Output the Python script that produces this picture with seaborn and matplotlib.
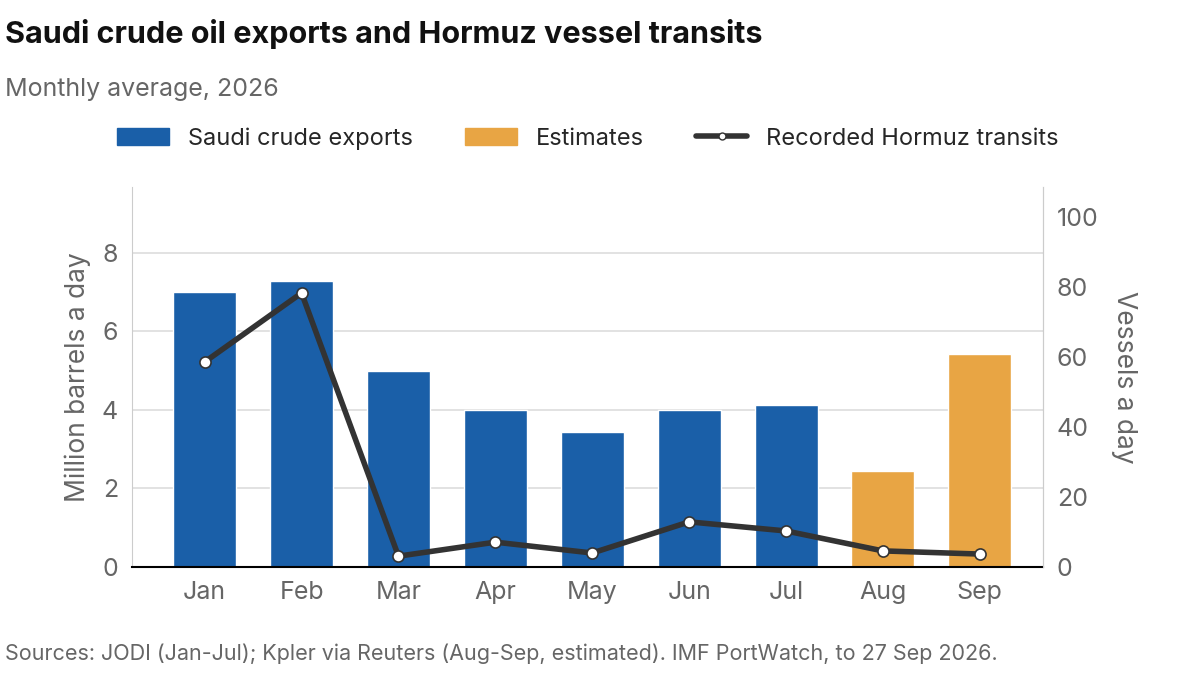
import numpy as np
import matplotlib.pyplot as plt
import seaborn as sns
from matplotlib.lines import Line2D
from matplotlib.patches import Patch

months = ["Jan", "Feb", "Mar", "Apr", "May", "Jun", "Jul", "Aug", "Sep"]
exports = [7.0, 7.29, 5.0, 4.0, 3.44, 4.0, 4.13, 2.45, 5.43]
is_estimate = [False] * 7 + [True, True]
transits = [58.6, 78.3, 3.1, 7.1, 4.0, 12.9, 10.3, 4.6, 3.7]

BLUE = "#1a5fa8"
ORANGE = "#e8a544"
LINE = "#333333"
GREY = "#666666"

sns.set_style("white")
plt.rcParams['font.family'] = ['Inter', 'DejaVu Sans']

fig = plt.figure(figsize=(12, 6.75), dpi=100)
ax = fig.add_axes([0.11, 0.16, 0.759, 0.563])
x = np.arange(len(months))
colors = [ORANGE if e else BLUE for e in is_estimate]
sns.barplot(x=months, y=exports, palette=colors, hue=months, legend=False,
            width=0.65, ax=ax, zorder=2, saturation=1)
ax.set_ylim(0, 9.68)
ax.set_yticks([0, 2, 4, 6, 8])
ax.yaxis.grid(True, color="#dddddd", linewidth=1.2, zorder=0)
ax.set_axisbelow(True)
ax.set_xlim(-0.75, 8.65)
ax.tick_params(axis="both", labelsize=18, colors=GREY, length=0, pad=10)
ax.set_ylabel("Million barrels a day", fontsize=19, color=GREY, labelpad=8)
for s in ["top"]:
    ax.spines[s].set_visible(False)
ax.spines["left"].set_color("#cccccc")
ax.spines["right"].set_color("#cccccc")
ax.spines["bottom"].set_color("black")
ax.spines["bottom"].set_linewidth(1.5)

ax2 = ax.twinx()
ax2.plot(x, transits, color=LINE, linewidth=4, marker="o", markersize=8,
         markerfacecolor="white", markeredgecolor=LINE, markeredgewidth=1.2, zorder=3)
ax2.set_ylim(0, 108.6)
ax2.set_yticks([0, 20, 40, 60, 80, 100])
ax2.tick_params(axis="y", labelsize=18, colors=GREY, length=0, pad=10)
ax2.set_ylabel("Vessels a day", fontsize=19, color=GREY, rotation=270, labelpad=28)
for s in ["top", "left", "bottom"]:
    ax2.spines[s].set_visible(False)
ax2.spines["right"].set_color("#cccccc")

fig.text(0.004, 0.95, "Saudi crude oil exports and Hormuz vessel transits",
         fontsize=22, fontweight="bold", color="#111111", va="center")
fig.text(0.004, 0.868, "Monthly average, 2026", fontsize=18, color=GREY, va="center")
fig.text(0.004, 0.032, "Sources: JODI (Jan-Jul); Kpler via Reuters (Aug-Sep, estimated). IMF PortWatch, to 27 Sep 2026.",
         fontsize=15.5, color=GREY, va="center")

handles = [Patch(color=BLUE, label="Saudi crude exports"),
           Patch(color=ORANGE, label="Estimates"),
           Line2D([0], [0], color=LINE, linewidth=4, marker="o", markersize=5,
                  markerfacecolor="white", label="Recorded Hormuz transits")]
fig.legend(handles=handles, loc="center", bbox_to_anchor=(0.49, 0.795), ncol=3,
           frameon=False, fontsize=17, handlelength=2.2, columnspacing=2.2)

fig.savefig("out.png", dpi=100)
